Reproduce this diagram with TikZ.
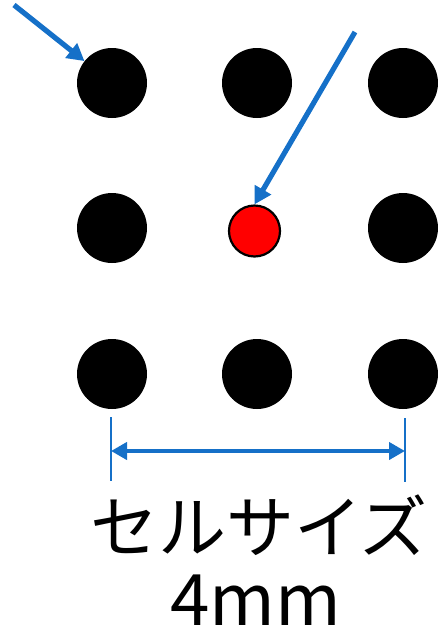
\documentclass[tikz,border=0pt]{standalone}
\usepackage{fontspec}
\newfontfamily\jpfont{Noto Sans CJK JP}
\usetikzlibrary{arrows.meta}
\definecolor{arrowblue}{RGB}{21,112,200}
\begin{document}
\begin{tikzpicture}[x=1pt,y=-1pt,
  dot/.style={circle,fill=black,minimum size=70pt,inner sep=0pt},
  reddot/.style={circle,fill=red,draw=black,line width=2.2pt,minimum size=51pt,inner sep=0pt},
  pointer/.style={draw=arrowblue,line width=5.2pt,-{Triangle[length=17pt,width=18pt]}},
  dimline/.style={draw=arrowblue,line width=4.6pt,{Triangle[length=16pt,width=17pt]}-{Triangle[length=16pt,width=17pt]}},
  tick/.style={draw=arrowblue,line width=2.4pt},
  label/.style={font=\jpfont\fontsize{68}{80}\selectfont,inner sep=0pt,anchor=base,text depth=0pt}]
\useasboundingbox (0,0) rectangle (437,630);
\node[dot] (d11) at (112,83) {};
\node[dot] (d12) at (257,83) {};
\node[dot] (d13) at (403,83) {};
\node[dot] (d21) at (112,228) {};
\node[reddot] (r) at (254.5,231) {};
\node[dot] (d23) at (403,228) {};
\node[dot] (d31) at (112,374) {};
\node[dot] (d32) at (257,374) {};
\node[dot] (d33) at (403,374) {};
\coordinate (s1) at (14,5);
\coordinate (s2) at (355,32);
\draw[pointer] (s1) -- (d11);
\draw[pointer] (s2) -- (r.north);
\coordinate (tl1) at (111,417);
\coordinate (tl2) at (111,481);
\coordinate (tr1) at (405,418);
\coordinate (tr2) at (405,482);
\coordinate (al) at (111,451);
\coordinate (ar) at (405,451);
\draw[tick] (tl1) -- (tl2);
\draw[tick] (tr1) -- (tr2);
\draw[dimline] (al) -- (ar);
\node[label] (t1) at (259,552) {セルサイズ};
\node[label,font=\jpfont\fontsize{71}{80}\selectfont] (t2) at (256,625) {4mm};
\end{tikzpicture}
\end{document}
